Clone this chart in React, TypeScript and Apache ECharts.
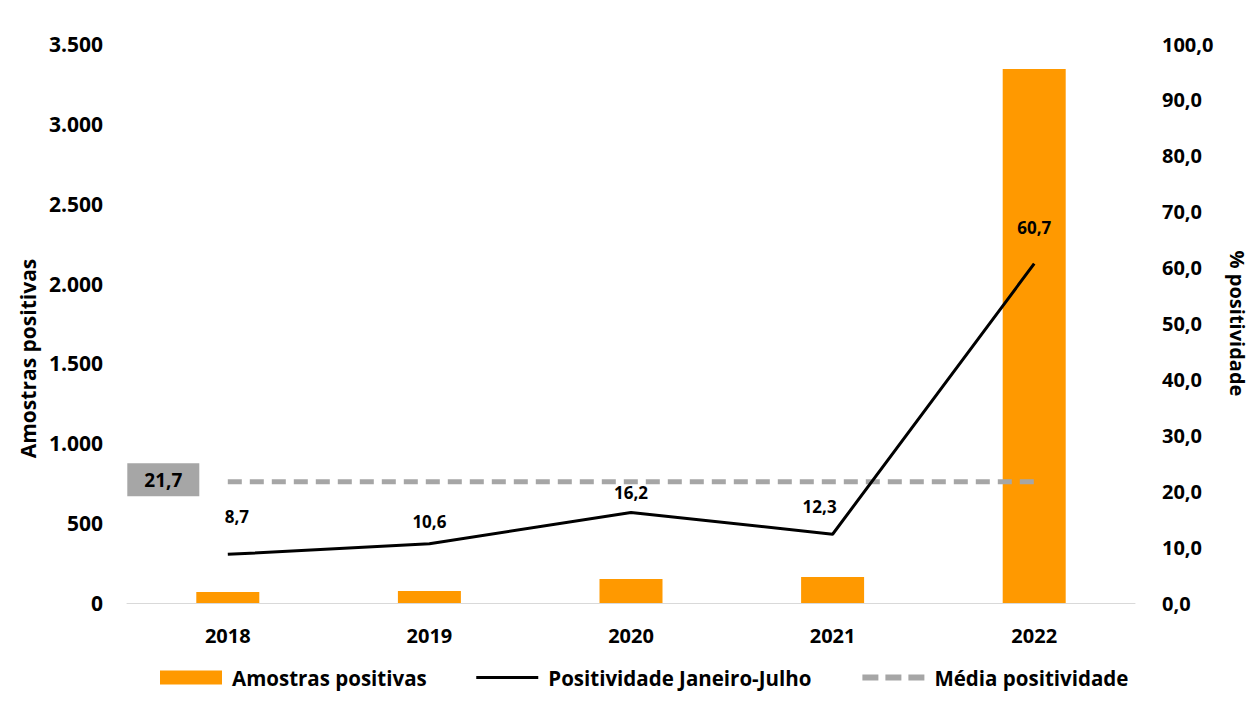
import React, { useEffect, useRef } from "react";
import * as echarts from "echarts";

const years = ["2018", "2019", "2020", "2021", "2022"];
const amostrasPositivas = [69, 75, 150, 163, 3344];
const positividade = [8.7, 10.6, 16.2, 12.3, 60.7];
const mediaPositividade = [21.7, 21.7, 21.7, 21.7, 21.7];

const FONT = "'Open Sans', 'Noto Sans', sans-serif";
const fmtThousands = (v: number) => String(v).replace(/\B(?=(\d{3})+(?!\d))/g, ".");
const fmtDec = (v: number) => v.toFixed(1).replace(".", ",");

// label placement tweaks for the line data labels
const labelOffsets: [number, number][] = [[9, -16], [0, 0], [0, 2], [-13, -6], [0, -14]];

const TRANSPARENT = "rgba(0,0,0,0)";

export default function App() {
  const ref = useRef<HTMLDivElement>(null);
  useEffect(() => {
    if (!ref.current) return;
    const chart = echarts.init(ref.current, null, { renderer: "svg" });
    const axisText = { color: "#000", fontWeight: "bold" as const, fontSize: 20, fontFamily: FONT };
    const option: echarts.EChartsOption = {
      animation: false,
      backgroundColor: "#ffffff",
      textStyle: { fontFamily: FONT },
      grid: { left: 127, right: 121, top: 44, bottom: 108 },
      legend: {
        bottom: 18,
        left: 155,
        itemWidth: 62,
        itemHeight: 14,
        itemGap: 48,
        textStyle: {
          fontFamily: FONT,
          fontWeight: "bold",
          fontSize: 20.5,
          color: "#000",
          padding: [0, 0, 0, 5],
        },
        data: [
          { name: "Amostras positivas", icon: "rect" },
          { name: "Positividade Janeiro-Julho", lineStyle: { width: 3, color: "#000" } },
          {
            name: "Média positividade",
            lineStyle: { width: 6, color: "#a6a6a6", type: [16, 7] },
          },
        ],
      },
      xAxis: {
        type: "category",
        data: years,
        axisLine: { lineStyle: { color: "#d9d9d9", width: 1 } },
        axisTick: { show: false },
        axisLabel: { ...axisText, margin: 22 },
      },
      yAxis: [
        {
          type: "value",
          min: 0,
          max: 3500,
          interval: 500,
          name: "Amostras positivas",
          nameLocation: "middle",
          nameGap: 86,
          nameTextStyle: { ...axisText, fontSize: 21, padding: [0, 70, 0, 0] },
          splitLine: { show: false },
          axisLine: { show: false },
          axisTick: { show: false },
          axisLabel: { ...axisText, fontSize: 21, margin: 24, formatter: (v: number) => fmtThousands(v) },
        },
        {
          type: "value",
          min: 0,
          max: 100,
          interval: 10,
          name: "% positividade",
          nameLocation: "middle",
          nameGap: 92,
          nameRotate: -90,
          nameTextStyle: axisText,
          splitLine: { show: false },
          axisLine: { show: false },
          axisTick: { show: false },
          axisLabel: { ...axisText, margin: 27, formatter: (v: number) => fmtDec(v) },
        },
      ],
      series: [
        {
          name: "Amostras positivas",
          type: "bar",
          data: amostrasPositivas,
          barWidth: 63,
          itemStyle: { color: "#ff9900" },
          yAxisIndex: 0,
        },
        {
          name: "Média positividade",
          type: "line",
          yAxisIndex: 1,
          data: mediaPositividade.map((v, i) =>
            i === 0
              ? {
                  value: v,
                  label: {
                    show: true,
                    position: "left",
                    distance: 28,
                    formatter: (p: any) => fmtDec(p.value),
                    backgroundColor: "#a6a6a6",
                    color: "#000",
                    fontWeight: "bold",
                    fontSize: 19,
                    fontFamily: FONT,
                    padding: [7, 17, 7, 17],
                    offset: [0, -2],
                  },
                }
              : v
          ),
          symbol: "circle",
          symbolSize: 1,
          showSymbol: true,
          lineStyle: { color: "#a6a6a6", width: 5, type: [14, 8] },
          itemStyle: { color: TRANSPARENT },
        },
        {
          name: "Positividade Janeiro-Julho",
          type: "line",
          yAxisIndex: 1,
          data: positividade.map((v, i) => ({
            value: v,
            label: { offset: labelOffsets[i] },
          })),
          symbol: "circle",
          symbolSize: 1,
          showSymbol: true,
          lineStyle: { color: "#000", width: 3 },
          itemStyle: { color: TRANSPARENT },
          label: {
            show: true,
            position: "top",
            distance: 13,
            color: "#000",
            fontWeight: "bold",
            fontSize: 17,
            fontFamily: FONT,
            formatter: (p: any) => fmtDec(p.value),
          },
        },
      ],
    };
    chart.setOption(option);
    return () => chart.dispose();
  }, []);
  return (
    <div
      ref={ref}
      style={{ position: "fixed", left: 0, top: 0, width: 1256, height: 711, background: "#fff" }}
    />
  );
}
